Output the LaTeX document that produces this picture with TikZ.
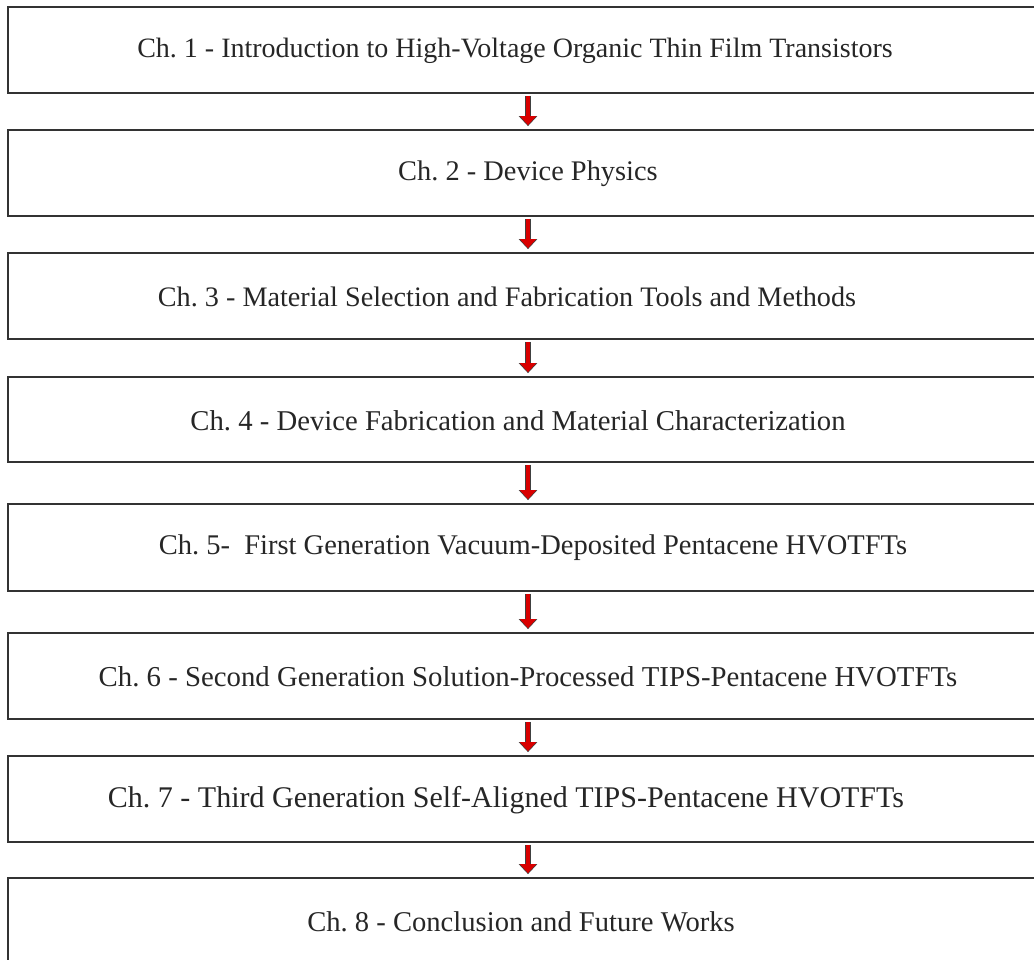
\documentclass[tikz,border=0pt]{standalone}
\usepackage{fontspec}
\setmainfont{Liberation Serif}
\usepackage{tikz}
\usetikzlibrary{arrows.meta}
\usetikzlibrary{positioning}
\frenchspacing

\begin{document}
\begin{tikzpicture}[
  x=1pt, y=-1pt,
  chbox/.style 2 args={
    rectangle,
    draw=black!80,
    line width=1.8pt,
    minimum width=#1,
    minimum height=#2,
    inner sep=0pt},
  chtext/.style={
    font=\fontsize{#1}{32}\selectfont,
    text=black!85,
    inner sep=0pt},
  dep/.style={
    draw=red!85!black,
    line width=4pt,
    shorten <=2pt, shorten >=4pt,
    -{Triangle[width=16pt,length=9pt]},
    preaction={draw=black!75, line width=6pt, shorten <=2pt, shorten >=3pt,
      -{Triangle[width=18pt,length=10pt]}}},
]

  \useasboundingbox (0,0) rectangle (1034,959);
  \clip (0,0) rectangle (1034,959);

  \def\boxleft{8}%
  \def\boxright{1045}%
  \coordinate (axis) at (528,0);

  % Chapter boxes: index / top / bottom / text centre x / font size / text
  \foreach \step/\top/\bot/\tx/\fs/\txt in {
      1/7/93/515/28/{Ch. 1 - Introduction to High-Voltage Organic Thin Film Transistors},
      2/130/216/528/28.4/{Ch. 2 - Device Physics},
      3/253/339/507/28.2/{Ch. 3 - Material Selection and Fabrication Tools and Methods},
      4/377/462/518/28.7/{Ch. 4 - Device Fabrication and Material Characterization},
      5/504/591/533/28.5/{Ch. 5-\ \ First Generation Vacuum-Deposited Pentacene HVOTFTs},
      6/633/719/528/28.8/{Ch. 6 - Second Generation Solution-Processed TIPS-Pentacene HVOTFTs},
      7/756/842/506/30/{Ch. 7 - Third Generation Self-Aligned TIPS-Pentacene HVOTFTs},
      8/878/990/521/28.6/{Ch. 8 - Conclusion and Future Works}} {
    \node[chbox={\boxright-\boxleft}{\bot-\top}] (ch\step)
        at ({(\boxleft+\boxright)/2}, {(\top+\bot)/2}) {};
    \node[chtext=\fs] (lbl\step) at (\tx, {\top+44}) {\txt};
  }

  % Flow arrows
  \foreach \start [count=\stop from 2] in {1,...,7} {
    \draw[dep] (ch\start.south -| axis) -- (ch\stop.north -| axis);
  }

\end{tikzpicture}
\end{document}
